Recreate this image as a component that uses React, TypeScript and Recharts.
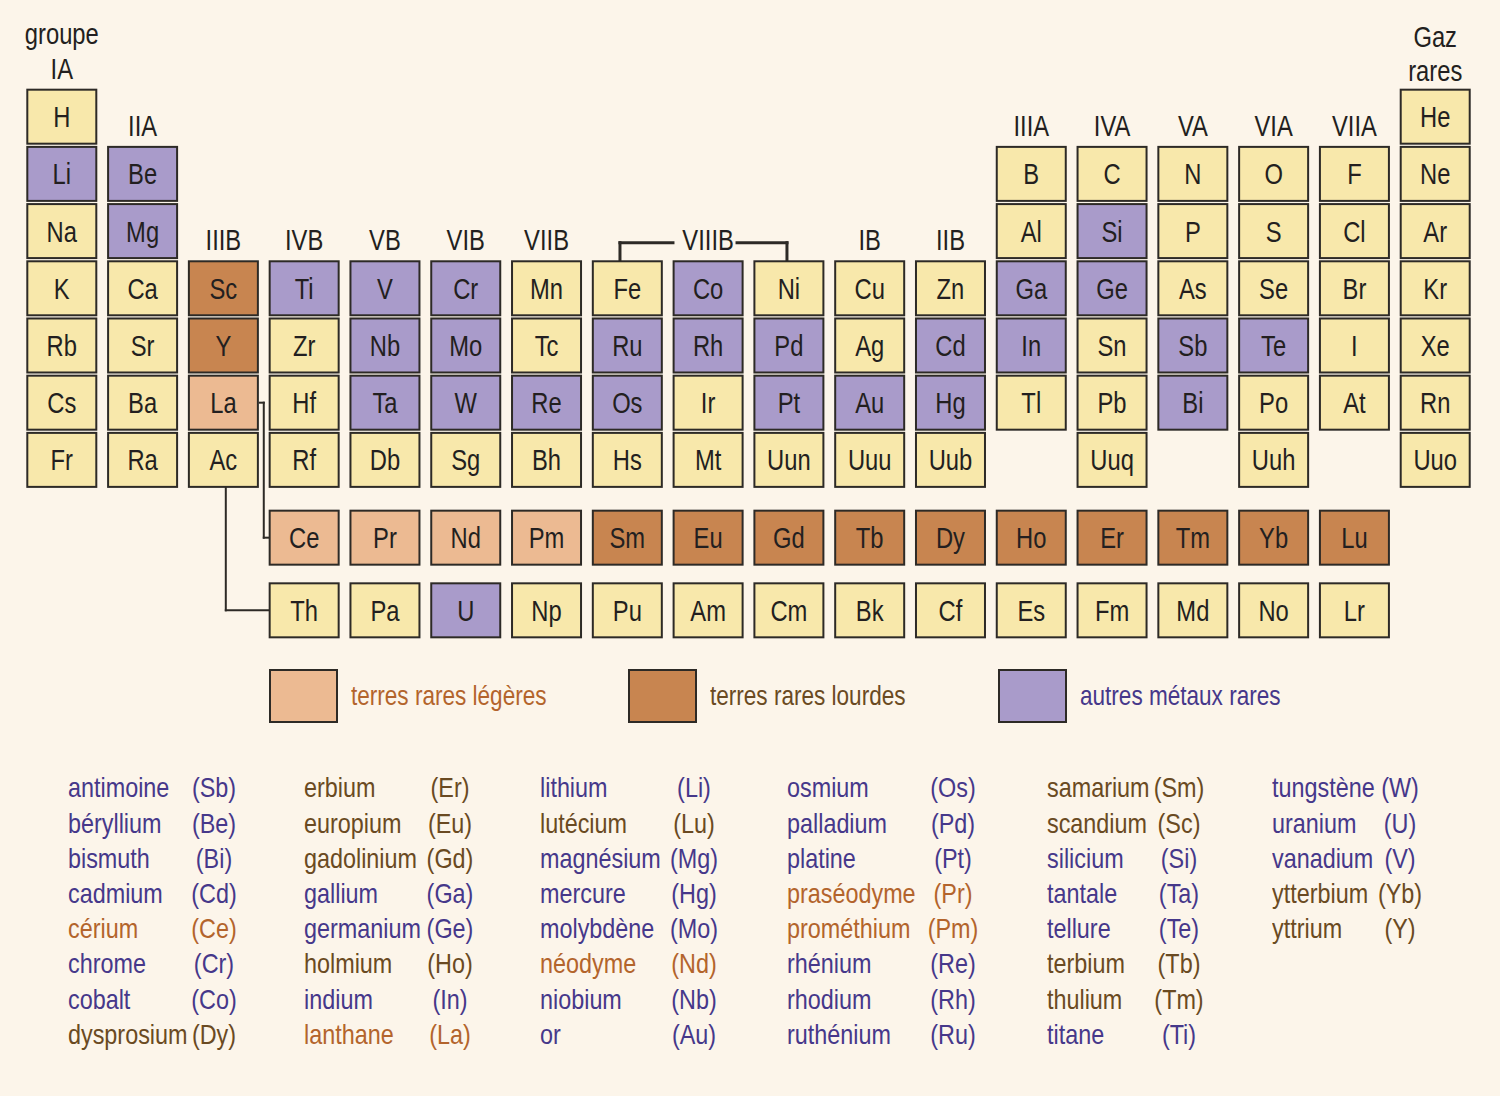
import React from "react";
import { ScatterChart, Scatter, XAxis, YAxis, ReferenceLine, Legend } from "recharts";

const FONT = "'Liberation Sans', Arial, sans-serif";
// the original uses a condensed face, so glyphs are squeezed horizontally
const SQUEEZE = 0.82;

// table layout, one string per cell ("" = empty)
const PERIODS: string[][] = [
  ["H", "", "", "", "", "", "", "", "", "", "", "", "", "", "", "", "", "He"],
  ["Li", "Be", "", "", "", "", "", "", "", "", "", "", "B", "C", "N", "O", "F", "Ne"],
  ["Na", "Mg", "", "", "", "", "", "", "", "", "", "", "Al", "Si", "P", "S", "Cl", "Ar"],
  ["K", "Ca", "Sc", "Ti", "V", "Cr", "Mn", "Fe", "Co", "Ni", "Cu", "Zn", "Ga", "Ge", "As", "Se", "Br", "Kr"],
  ["Rb", "Sr", "Y", "Zr", "Nb", "Mo", "Tc", "Ru", "Rh", "Pd", "Ag", "Cd", "In", "Sn", "Sb", "Te", "I", "Xe"],
  ["Cs", "Ba", "La", "Hf", "Ta", "W", "Re", "Os", "Ir", "Pt", "Au", "Hg", "Tl", "Pb", "Bi", "Po", "At", "Rn"],
  ["Fr", "Ra", "Ac", "Rf", "Db", "Sg", "Bh", "Hs", "Mt", "Uun", "Uuu", "Uub", "", "Uuq", "", "Uuh", "", "Uuo"],
];
const LANTHANIDES = ["Ce", "Pr", "Nd", "Pm", "Sm", "Eu", "Gd", "Tb", "Dy", "Ho", "Er", "Tm", "Yb", "Lu"];
const ACTINIDES = ["Th", "Pa", "U", "Np", "Pu", "Am", "Cm", "Bk", "Cf", "Es", "Fm", "Md", "No", "Lr"];
const LANTHANIDE_ROW = 8.36;
const ACTINIDE_ROW = 9.63;

const RARE_LIGHT = ["La", "Ce", "Pr", "Nd", "Pm"];
const RARE_HEAVY = ["Sc", "Y", "Sm", "Eu", "Gd", "Tb", "Dy", "Ho", "Er", "Tm", "Yb", "Lu"];
const RARE_OTHER = [
  "Li", "Be", "Mg", "Si", "Ti", "V", "Cr", "Co", "Ga", "Ge", "Nb", "Mo", "Ru", "Rh",
  "Pd", "Cd", "In", "Sb", "Te", "Ta", "W", "Re", "Os", "Pt", "Au", "Hg", "Bi", "U",
];

const GROUP_NAMES = ["IA", "IIA", "IIIB", "IVB", "VB", "VIB", "VIIB", "", "VIIIB", "", "IB", "IIB", "IIIA", "IVA", "VA", "VIA", "VIIA", ""];
const EXTRA_LABELS = [
  { text: "groupe", col: 1, row: -0.46 },
  { text: "Gaz", col: 18, row: -0.41 },
  { text: "rares", col: 18, row: 0.2 },
];

const LEGEND_ITEMS = [
  { kind: "light", label: "terres rares légères" },
  { kind: "heavy", label: "terres rares lourdes" },
  { kind: "other", label: "autres métaux rares" },
];

const ELEMENT_NAMES: [string, string][] = [
  ["antimoine", "Sb"], ["béryllium", "Be"], ["bismuth", "Bi"], ["cadmium", "Cd"],
  ["cérium", "Ce"], ["chrome", "Cr"], ["cobalt", "Co"], ["dysprosium", "Dy"],
  ["erbium", "Er"], ["europium", "Eu"], ["gadolinium", "Gd"], ["gallium", "Ga"],
  ["germanium", "Ge"], ["holmium", "Ho"], ["indium", "In"], ["lanthane", "La"],
  ["lithium", "Li"], ["lutécium", "Lu"], ["magnésium", "Mg"], ["mercure", "Hg"],
  ["molybdène", "Mo"], ["néodyme", "Nd"], ["niobium", "Nb"], ["or", "Au"],
  ["osmium", "Os"], ["palladium", "Pd"], ["platine", "Pt"], ["praséodyme", "Pr"],
  ["prométhium", "Pm"], ["rhénium", "Re"], ["rhodium", "Rh"], ["ruthénium", "Ru"],
  ["samarium", "Sm"], ["scandium", "Sc"], ["silicium", "Si"], ["tantale", "Ta"],
  ["tellure", "Te"], ["terbium", "Tb"], ["thulium", "Tm"], ["titane", "Ti"],
  ["tungstène", "W"], ["uranium", "U"], ["vanadium", "V"], ["ytterbium", "Yb"],
  ["yttrium", "Y"],
];

// connector lines, in table units (column, row)
const LA_LINK = [{ x: 3.45, y: 6.0 }, { x: 3.5, y: 6.0 }, { x: 3.5, y: LANTHANIDE_ROW }, { x: 3.573, y: LANTHANIDE_ROW }];
const AC_LINK = [{ x: 3.03, y: 7.47 }, { x: 3.03, y: ACTINIDE_ROW }, { x: 3.573, y: ACTINIDE_ROW }];
const VIIIB_LEFT = [{ x: 8.565, y: 3.203 }, { x: 7.909, y: 3.203 }, { x: 7.909, y: 3.528 }];
const VIIIB_RIGHT = [{ x: 9.358, y: 3.203 }, { x: 9.976, y: 3.203 }, { x: 9.976, y: 3.528 }];

const W = 1500;
const H = 1096;
const X_DOMAIN: [number, number] = [0.235, 18.802];
const Y_DOMAIN: [number, number] = [-1.04, 18.121];
const CELL_W = 69;
const CELL_H = 54;

const BG = "#fcf5ea";
const BORDER = "#2d2a26";
const INK = "#231f20";
const FILL: Record<string, string> = {
  common: "#f8e8ab",
  other: "#a99bca",
  light: "#ecba92",
  heavy: "#c88550",
};
const TEXT_COLOR: Record<string, string> = {
  common: INK,
  other: "#46388a",
  light: "#b3642c",
  heavy: "#6a4a22",
};

const kindOf = (sym: string) =>
  RARE_LIGHT.includes(sym) ? "light" : RARE_HEAVY.includes(sym) ? "heavy" : RARE_OTHER.includes(sym) ? "other" : "common";

const cells: { sym: string; col: number; row: number; kind: string }[] = [];
PERIODS.forEach((line, r) =>
  line.forEach((sym, c) => {
    if (sym) cells.push({ sym, col: c + 1, row: r + 1, kind: kindOf(sym) });
  })
);
LANTHANIDES.forEach((sym, i) => cells.push({ sym, col: i + 4, row: LANTHANIDE_ROW, kind: kindOf(sym) }));
ACTINIDES.forEach((sym, i) => cells.push({ sym, col: i + 4, row: ACTINIDE_ROW, kind: kindOf(sym) }));

const groupLabels = [
  ...GROUP_NAMES.map((text, c) => {
    const first = PERIODS.findIndex((line) => line[c] !== "");
    return { text, col: c + 1, row: first + 1 - 0.85 };
  }).filter((g) => g.text),
  ...EXTRA_LABELS,
];

const NAME_X = [68, 304, 540, 787, 1047, 1272];
const SYM_X = [214, 450, 694, 953, 1179, 1400];
const LIST_TOP = 770.4;
const LIST_STEP = 35.2;
const LEGEND_X = [269, 628, 998];

function SqueezedText({ x, y, children, size = 29 }: { x: number; y: number; children: React.ReactNode; size?: number }) {
  return (
    <text
      transform={`translate(${x} ${y}) scale(${SQUEEZE} 1)`}
      textAnchor="middle"
      fontSize={size}
      fill={INK}
      fontFamily={FONT}
    >
      {children}
    </text>
  );
}

function CellShape(props: any) {
  const { cx, cy, payload } = props;
  return (
    <g>
      <rect
        x={cx - CELL_W / 2}
        y={cy - CELL_H / 2}
        width={CELL_W}
        height={CELL_H}
        fill={FILL[payload.kind]}
        stroke={BORDER}
        strokeWidth={2}
      />
      <SqueezedText x={cx} y={cy + 10.5}>{payload.sym}</SqueezedText>
    </g>
  );
}

function LabelShape(props: any) {
  const { cx, cy, payload } = props;
  return <SqueezedText x={cx} y={cy + 10.5}>{payload.text}</SqueezedText>;
}

function segments(points: { x: number; y: number }[], width: number, key: string) {
  return points.slice(1).map((p, i) => (
    <ReferenceLine
      key={`${key}-${i}`}
      segment={[points[i], p]}
      stroke={BORDER}
      strokeWidth={width}
      strokeLinecap="square"
      ifOverflow="visible"
    />
  ));
}

const renderLegend = () => (
  <div style={{ position: "relative", width: W, height: 56 }}>
    {LEGEND_ITEMS.map((it, i) => (
      <div
        key={it.label}
        style={{ position: "absolute", left: LEGEND_X[i], top: 0, display: "flex", alignItems: "center" }}
      >
        <div style={{ width: 65, height: 50, background: FILL[it.kind], border: `2px solid ${BORDER}` }} />
        <span
          style={{
            display: "inline-block",
            marginLeft: 13,
            fontSize: 27.5,
            color: TEXT_COLOR[it.kind],
            fontFamily: FONT,
            whiteSpace: "nowrap",
            transform: `scaleX(${SQUEEZE})`,
            transformOrigin: "left center",
          }}
        >
          {it.label}
        </span>
      </div>
    ))}
  </div>
);

export default function App() {
  const columns: [string, string][][] = [];
  for (let i = 0; i < ELEMENT_NAMES.length; i += 8) columns.push(ELEMENT_NAMES.slice(i, i + 8));

  return (
    <div style={{ position: "relative", width: W, height: H, background: BG, fontFamily: FONT }}>
      <style>{`body{margin:0;background:${BG}}`}</style>
      <ScatterChart width={W} height={H} margin={{ top: 0, right: 0, bottom: 0, left: 0 }}>
        <XAxis type="number" dataKey="col" domain={X_DOMAIN} allowDataOverflow hide />
        <YAxis type="number" dataKey="row" domain={Y_DOMAIN} allowDataOverflow reversed hide />
        {segments(LA_LINK, 2, "la")}
        {segments(AC_LINK, 2, "ac")}
        {segments(VIIIB_LEFT, 3, "v8l")}
        {segments(VIIIB_RIGHT, 3, "v8r")}
        <Scatter data={cells} shape={CellShape} isAnimationActive={false} />
        <Scatter data={groupLabels} shape={LabelShape} isAnimationActive={false} />
        <Legend
          layout="horizontal"
          verticalAlign="middle"
          align="center"
          content={renderLegend}
          wrapperStyle={{ position: "absolute", left: 0, top: 669, width: W, height: 56 }}
        />
      </ScatterChart>
      {columns.map((col, ci) =>
        col.map(([name, sym], ri) => {
          const base: React.CSSProperties = {
            position: "absolute",
            top: LIST_TOP + ri * LIST_STEP,
            fontSize: 28.5,
            lineHeight: `${LIST_STEP}px`,
            color: TEXT_COLOR[kindOf(sym)],
            whiteSpace: "nowrap",
          };
          return (
            <React.Fragment key={sym}>
              <div style={{ ...base, left: NAME_X[ci], transform: `scaleX(${SQUEEZE})`, transformOrigin: "left center" }}>
                {name}
              </div>
              <div
                style={{
                  ...base,
                  left: SYM_X[ci] - 40,
                  width: 80,
                  textAlign: "center",
                  transform: `scaleX(${SQUEEZE})`,
                  transformOrigin: "center center",
                }}
              >
                ({sym})
              </div>
            </React.Fragment>
          );
        })
      )}
    </div>
  );
}
